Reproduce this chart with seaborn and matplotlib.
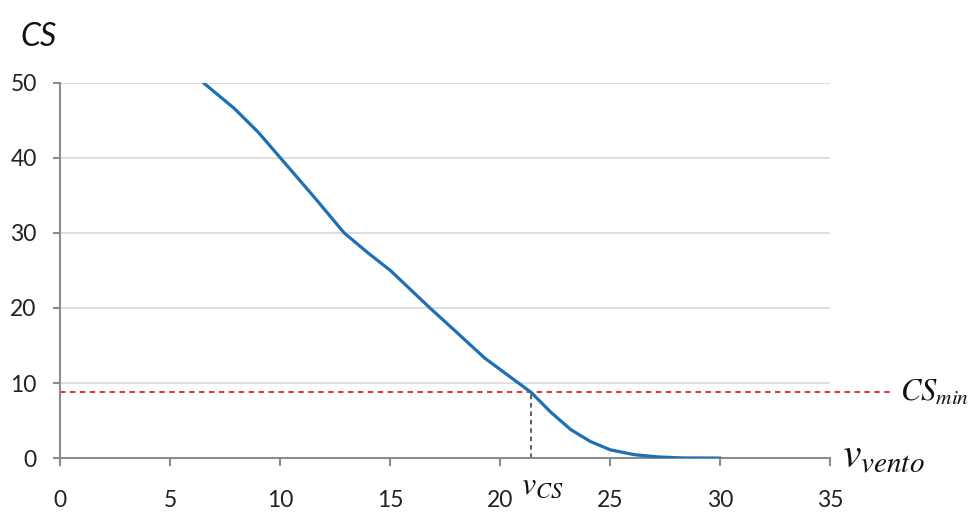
import matplotlib
matplotlib.use("Agg")
import matplotlib.pyplot as plt
import seaborn as sns
import pandas as pd

# Safety coefficient CS as a function of wind speed
wind_speed = [6.5, 7.9, 9.0, 10.0, 11.5, 12.9, 14.0, 15.0, 16.8, 18.0, 19.3, 21.4,
              22.3, 23.2, 24.1, 25.0, 26.1, 27.2, 28.3, 30.0]
cs_values = [50, 46.6, 43.4, 40, 34.9, 30, 27.3, 25.0, 20, 16.8, 13.3, 8.75,
             6.1, 3.8, 2.2, 1.1, 0.45, 0.15, 0.02, 0.0]
cs_min = 8.75
v_cs = 21.4
x_ticks = [0, 5, 10, 15, 20, 25, 30, 35]
y_ticks = [0, 10, 20, 30, 40, 50]

sns.set_theme(style="white")
plt.rcParams["font.family"] = ["Lato", "DejaVu Sans"]
plt.rcParams["mathtext.fontset"] = "stix"

df = pd.DataFrame({"v": wind_speed, "cs": cs_values})

fig = plt.figure(figsize=(9.7, 5.15), dpi=100)
ax = fig.add_axes([0.0622, 0.1105, 0.7938, 0.7288])

for t in y_ticks[1:]:
    ax.axhline(t, color="#d9d9d9", lw=1.2, zorder=0)

sns.lineplot(data=df, x="v", y="cs", ax=ax, color="#1f6fb5", lw=2.3, zorder=3,
             solid_joinstyle="round", solid_capstyle="round")

ax.plot([0, 37.9], [cs_min, cs_min], color="#e0202a", ls=(0, (3, 2.5)), lw=1.3,
        clip_on=False, zorder=2)
ax.plot([v_cs, v_cs], [0, cs_min], color="#333333", ls=(0, (3, 2.5)), lw=1.1, zorder=2)

ax.set_xlim(0, 35)
ax.set_ylim(0, 50)
ax.set_xticks(x_ticks)
ax.set_yticks(y_ticks)
ax.set_xlabel("")
ax.set_ylabel("")

for side in ("top", "right"):
    ax.spines[side].set_visible(False)
for side in ("left", "bottom"):
    ax.spines[side].set_color("#8c8c8c")
    ax.spines[side].set_linewidth(1.5)

ax.tick_params(axis="x", direction="out", length=6, width=1.5, color="#8c8c8c",
               labelsize=16.5, pad=17, bottom=True)
ax.tick_params(axis="y", direction="out", length=5, width=1.5, color="#8c8c8c",
               labelsize=16.5, pad=12, left=True)
for lab in ax.get_xticklabels() + ax.get_yticklabels():
    lab.set_color("#222222")

fig.text(0.021, 0.928, "CS", fontsize=23, style="italic", color="#111111",
         ha="left", va="center")
ax.text(35.55, 0.2, r"$v_{vento}$", fontsize=30, ha="left", va="center",
        color="#111111", clip_on=False)
ax.text(38.15, cs_min, r"$CS_{min}$", fontsize=22, ha="left", va="center",
        color="#111111", clip_on=False)
ax.text(21.9, -1.6, r"$v_{CS}$", fontsize=23, ha="center", va="top",
        color="#111111", clip_on=False)

fig.savefig("out.png", dpi=100)
